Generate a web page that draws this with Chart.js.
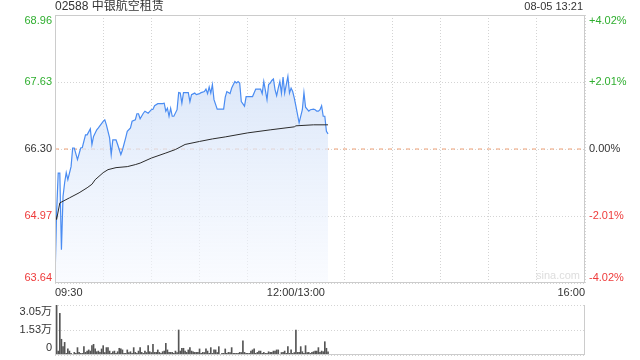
<!DOCTYPE html>
<html>
<head>
<meta charset="utf-8">
<script src="https://cdn.jsdelivr.net/npm/chart.js@4"></script>
<style>
    body { margin: 0; background: #fff; width: 640px; height: 360px; overflow: hidden; position: relative; }
    #priceBox { position: absolute; left: 0; top: 0; width: 640px; height: 300px; }
    #volBox { position: absolute; left: 0; top: 300px; width: 640px; height: 60px; }
</style>
</head>
<body>
<div id="priceBox"><canvas id="priceChart" width="640" height="300"></canvas></div>
<div id="volBox"><canvas id="volChart" width="640" height="60"></canvas></div>
<script>
// Chart data (minutes since 09:30, lunch break removed)
const stockCode = '02588';
const stockName = '中银航空租赁';
const stampText = '08-05 13:21';
const prevClose = 66.30;
const priceTicks = [63.64, 64.97, 66.30, 67.63, 68.96];
const pctLabels = ['-4.02%', '-2.01%', '0.00%', '+2.01%', '+4.02%'];
const timeLabels = ['09:30', '12:00/13:00', '16:00'];
const timeLabelMinutes = [0, 150, 330];
const gridMinutes = [0, 30, 60, 90, 120, 150, 180, 210, 240, 270, 300, 330];

const priceMinutes = [0, 1, 2, 3, 4, 5, 6, 7, 8, 10, 11, 12, 14, 16, 17, 19, 20, 22, 23, 24,
    26, 27, 30, 31, 32, 34, 35, 36, 38, 39, 41, 42, 44, 45, 47, 48, 50, 51, 52, 53,
    55, 56, 58, 60, 61, 62, 64, 67, 68, 69, 70, 71, 72, 73, 74, 76, 77, 78, 79, 80,
    83, 84, 85, 87, 88, 90, 91, 93, 94, 95, 96, 97, 98, 99, 101, 105, 106, 107, 109, 110,
    112, 113, 114, 115, 116, 118, 119, 123, 125, 128, 129, 130, 132, 133, 134, 135, 136, 137, 138, 139,
    140, 141, 142, 143, 144, 145, 146, 147, 148, 149, 150, 152, 154, 155, 156, 158, 159, 161, 162, 163,
    164, 165, 166, 167, 168, 169, 170];
const prices = [63.70, 65.04, 65.82, 65.82, 64.30, 65.36, 65.63, 65.83, 65.69, 65.95, 66.32, 66.32, 66.09, 66.32, 66.33, 66.58, 66.58, 66.70, 66.39, 66.55,
    66.68, 66.72, 66.85, 66.88, 66.78, 66.52, 66.19, 66.48, 66.48, 66.39, 66.19, 66.28, 66.52, 66.65, 66.72, 66.85, 66.88, 67.00, 67.00, 66.90,
    67.01, 67.05, 67.01, 67.08, 67.09, 67.16, 67.20, 67.20, 67.21, 67.05, 67.11, 66.95, 67.11, 66.95, 66.95, 67.08, 67.42, 67.41, 67.21, 67.42,
    67.42, 67.24, 67.38, 67.41, 67.38, 67.40, 67.42, 67.44, 67.49, 67.40, 67.53, 67.41, 67.58, 67.28, 67.09, 67.09, 67.33, 67.44, 67.40, 67.51,
    67.64, 67.61, 67.64, 67.61, 67.24, 67.15, 67.34, 67.34, 67.49, 67.49, 67.40, 67.64, 67.28, 67.58, 67.61, 67.66, 67.69, 67.48, 67.36, 67.51,
    67.64, 67.41, 67.73, 67.41, 67.58, 67.74, 67.41, 67.51, 67.44, 67.31, 67.15, 66.82, 67.08, 67.42, 67.13, 67.05, 67.08, 67.09, 67.08, 67.05,
    67.05, 67.08, 67.16, 66.95, 66.95, 66.65, 66.60];

const avgMinutes = [0, 1, 3, 9, 15, 20, 23, 25, 30, 33, 38, 45, 50, 53, 60, 69, 75, 81, 90, 98, 106, 120, 134, 149, 150, 161, 170];
const avgPrices = [65.04, 64.90, 65.23, 65.33, 65.43, 65.53, 65.60, 65.69, 65.83, 65.89, 65.93, 65.95, 65.99, 66.02, 66.12, 66.22, 66.29, 66.39, 66.45, 66.50, 66.54, 66.62, 66.68, 66.74, 66.76, 66.78, 66.78];

const volTicks = [0, 15250, 30500];
const volumes = [4500, 30500, 2400, 25400, 9600, 5100, 7700, 1000, 3700, 2400,
    1000, 300, 1600, 1000, 4500, 1600, 1000, 1000, 5100, 1600,
    2400, 3100, 2400, 5700, 6500, 3700, 2000, 2400, 1600, 3700,
    5700, 1500, 4500, 4500, 2400, 1000, 2000, 2400, 1000, 2000,
    4100, 3700, 3100, 1000, 1000, 3100, 1500, 2000, 1000, 4500,
    1600, 1000, 2400, 4500, 1600, 1000, 2400, 1500, 5700, 2000,
    1500, 6500, 1600, 1600, 3100, 1600, 1000, 2000, 2400, 7100,
    3100, 1600, 1600, 1600, 1000, 2400, 1500, 15250, 2400, 4100,
    4100, 2400, 1600, 3100, 4500, 2400, 2000, 1600, 1600, 1600,
    3700, 1000, 1600, 1500, 3700, 2400, 1000, 4500, 1000, 3100,
    3100, 1500, 5100, 200, 1000, 1000, 3700, 1000, 1600, 1500,
    4500, 1000, 1000, 1000, 1000, 1600, 1500, 8700, 1600, 1000,
    1000, 1000, 2400, 3100, 3700, 1000, 1600, 2400, 2400, 1000,
    1600, 1000, 1000, 2000, 1600, 1600, 2400, 2400, 3100, 3100,
    200, 1500, 1600, 2400, 1000, 5100, 1000, 3100, 1000, 1500,
    15250, 1600, 1600, 5100, 2000, 1000, 5700, 1500, 1600, 1000,
    1600, 2000, 2400, 2400, 4500, 1600, 2400, 2000, 8100, 4100, 2000];

const FONT = '"Liberation Sans", "Noto Sans CJK SC", Arial, sans-serif';
const UP = '#2fae2f';
const DOWN = '#ee3b3b';
const TEXT = '#333333';
const GRID = '#d4d4d4';
const FRAME = '#cccccc';

function tickColor(i) {
    if (i < 2) return DOWN;
    if (i > 2) return UP;
    return TEXT;
}

function volLabel(v) {
    if (v === 0) return '0';
    return (Math.round(v / 100) / 100).toFixed(2) + '万';
}

// draws the solid frame round the plot area
const framePlugin = {
    id: 'frame',
    afterDatasetsDraw(chart, args, opts) {
        const { ctx, chartArea: a } = chart;
        ctx.save();
        ctx.strokeStyle = FRAME;
        ctx.lineWidth = 1;
        ctx.beginPath();
        if (opts.top) {
            ctx.moveTo(a.left, Math.round(a.top) + 0.5);
            ctx.lineTo(a.right, Math.round(a.top) + 0.5);
        }
        ctx.moveTo(Math.round(a.left) + 0.5, a.top);
        ctx.lineTo(Math.round(a.left) + 0.5, a.bottom);
        ctx.moveTo(Math.round(a.right) - 0.5, a.top);
        ctx.lineTo(Math.round(a.right) - 0.5, a.bottom);
        ctx.moveTo(a.left, Math.round(a.bottom) - 0.5);
        ctx.lineTo(a.right, Math.round(a.bottom) - 0.5);
        ctx.stroke();
        ctx.restore();
    }
};

// axis labels, title, times
const priceLabels = {
    id: 'priceLabels',
    afterDraw(chart) {
        const { ctx, chartArea: a, scales } = chart;
        const y = scales.y;
        const x = scales.x;
        ctx.save();
        ctx.font = '11px ' + FONT;
        ctx.textBaseline = 'middle';
        priceTicks.forEach((t, i) => {
            let py = y.getPixelForValue(t);
            py = Math.max(a.top + 6, Math.min(a.bottom - 5, py));
            ctx.fillStyle = tickColor(i);
            ctx.textAlign = 'right';
            ctx.fillText(t.toFixed(2), a.left - 3, py);
            ctx.textAlign = 'left';
            ctx.fillText(pctLabels[i], a.right + 4, py);
        });

        ctx.fillStyle = TEXT;
        ctx.font = '12px ' + FONT;
        ctx.textAlign = 'left';
        ctx.fillText(stockCode + ' ' + stockName, a.left, 7);
        ctx.font = '11px ' + FONT;
        ctx.textAlign = 'right';
        ctx.fillText(stampText, a.right - 2, 7);

        timeLabels.forEach((lbl, i) => {
            const px = x.getPixelForValue(timeLabelMinutes[i]);
            ctx.textAlign = i === 0 ? 'left' : (i === timeLabels.length - 1 ? 'right' : 'center');
            ctx.fillText(lbl, px, a.bottom + 10);
        });

        ctx.fillStyle = '#dddddd';
        ctx.textAlign = 'right';
        ctx.fillText('sina.com', a.right - 5, a.bottom - 7);
        ctx.restore();
    }
};

const volLabels = {
    id: 'volLabels',
    afterDraw(chart) {
        const { ctx, chartArea: a, scales } = chart;
        ctx.save();
        ctx.font = '11px ' + FONT;
        ctx.textBaseline = 'middle';
        ctx.textAlign = 'right';
        ctx.fillStyle = TEXT;
        volTicks.forEach(t => {
            let py = scales.y.getPixelForValue(t);
            py = Math.max(a.top + 7, Math.min(a.bottom - 7, py));
            ctx.fillText(volLabel(t), a.left - 3, py);
        });
        ctx.restore();
    }
};

function areaFill(context) {
    const { chart } = context;
    const a = chart.chartArea;
    if (!a) return 'rgba(210,225,248,0.6)';
    const g = chart.ctx.createLinearGradient(0, a.top, 0, a.bottom);
    g.addColorStop(0, 'rgba(200,218,246,0.85)');
    g.addColorStop(1, 'rgba(246,249,255,0.6)');
    return g;
}

const toPoints = (xs, ys) => xs.map((m, i) => ({ x: m, y: ys[i] }));

new Chart(document.getElementById('priceChart'), {
    type: 'line',
    data: {
        datasets: [
            {
                data: toPoints(avgMinutes, avgPrices),
                borderColor: '#2b2b2b',
                borderWidth: 1,
                pointRadius: 0,
                fill: false
            },
            {
                data: toPoints(priceMinutes, prices),
                borderColor: '#4a8cf2',
                borderWidth: 1.2,
                pointRadius: 0,
                fill: 'start',
                backgroundColor: areaFill
            },
            {
                data: toPoints([0, 330], [prevClose, prevClose]),
                borderColor: '#f0a074',
                borderWidth: 1,
                borderDash: [4, 5],
                pointRadius: 0,
                fill: false
            }
        ]
    },
    options: {
        responsive: false,
        animation: false,
        layout: { padding: { left: 55, right: 55, top: 15, bottom: 17 } },
        plugins: { legend: { display: false }, tooltip: { enabled: false }, frame: { top: true } },
        scales: {
            x: {
                type: 'linear',
                min: 0,
                max: 330,
                afterBuildTicks: s => { s.ticks = gridMinutes.map(v => ({ value: v })); },
                afterFit: s => { s.height = 0; },
                ticks: { display: false },
                grid: { color: GRID, drawTicks: false },
                border: { display: false, dash: [1, 2] }
            },
            y: {
                min: priceTicks[0],
                max: priceTicks[priceTicks.length - 1],
                afterBuildTicks: s => { s.ticks = priceTicks.map(v => ({ value: v })); },
                afterFit: s => { s.width = 0; },
                ticks: { display: false },
                grid: { color: GRID, drawTicks: false },
                border: { display: false, dash: [1, 2] }
            }
        }
    },
    plugins: [framePlugin, priceLabels]
});

new Chart(document.getElementById('volChart'), {
    type: 'bar',
    data: {
        datasets: [{
            data: toPoints(volumes.map((v, i) => i), volumes),
            backgroundColor: '#555555',
            barThickness: 1
        }]
    },
    options: {
        responsive: false,
        animation: false,
        layout: { padding: { left: 55, right: 55, top: 5, bottom: 5 } },
        plugins: { legend: { display: false }, tooltip: { enabled: false }, frame: { top: false } },
        scales: {
            x: {
                type: 'linear',
                min: 0,
                max: 330,
                offset: false,
                afterFit: s => { s.height = 0; },
                ticks: { display: false },
                grid: { display: false },
                border: { display: false }
            },
            y: {
                min: 0,
                max: volTicks[volTicks.length - 1],
                afterBuildTicks: s => { s.ticks = volTicks.map(v => ({ value: v })); },
                afterFit: s => { s.width = 0; },
                ticks: { display: false },
                grid: { color: GRID, drawTicks: false },
                border: { display: false, dash: [1, 2] }
            }
        }
    },
    plugins: [framePlugin, volLabels]
});
</script>
</body>
</html>
